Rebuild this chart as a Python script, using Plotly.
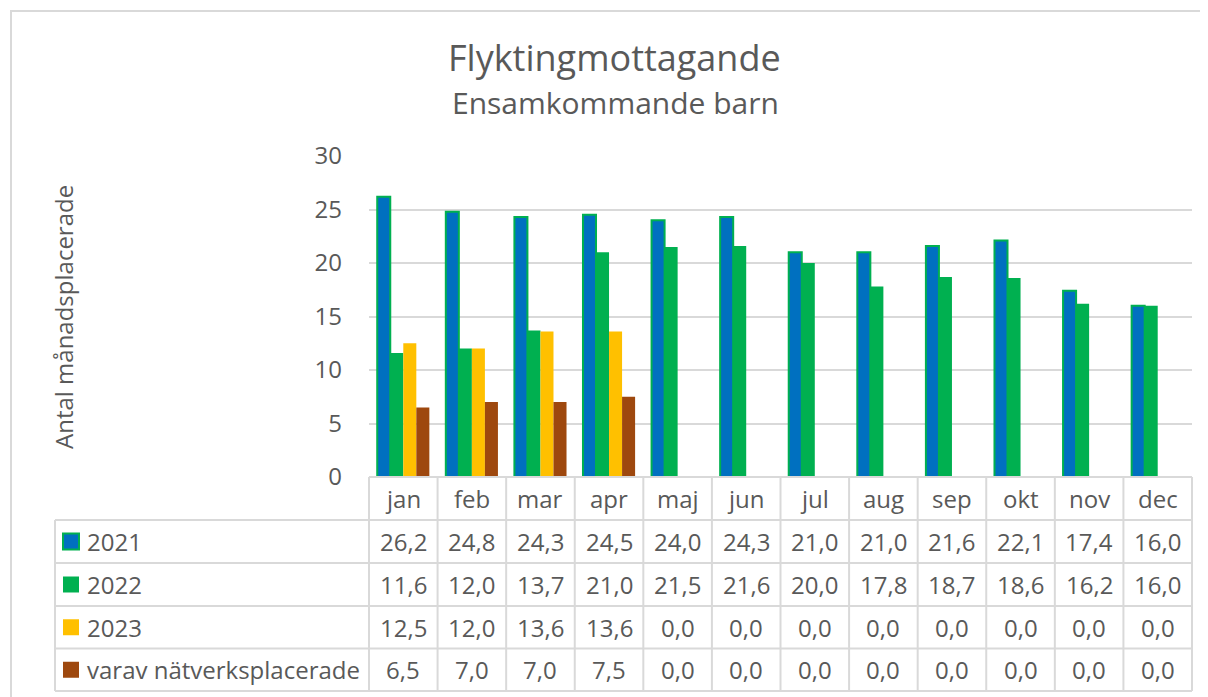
import plotly.graph_objects as go

months = ["jan", "feb", "mar", "apr", "maj", "jun", "jul", "aug", "sep", "okt", "nov", "dec"]
series_names = ["2021", "2022", "2023", "varav nätverksplacerade"]
v2021 = [26.2, 24.8, 24.3, 24.5, 24.0, 24.3, 21.0, 21.0, 21.6, 22.1, 17.4, 16.0]
v2022 = [11.6, 12.0, 13.7, 21.0, 21.5, 21.6, 20.0, 17.8, 18.7, 18.6, 16.2, 16.0]
v2023 = [12.5, 12.0, 13.6, 13.6, 0.0, 0.0, 0.0, 0.0, 0.0, 0.0, 0.0, 0.0]
vnat = [6.5, 7.0, 7.0, 7.5, 0.0, 0.0, 0.0, 0.0, 0.0, 0.0, 0.0, 0.0]
y_ticks = [0, 5, 10, 15, 20, 25, 30]

title = "Flyktingmottagande"
subtitle = "Ensamkommande barn"
y_title = "Antal månadsplacerade"

fills = ["#0070C0", "#00B050", "#FFC000", "#9E480E"]
borders = ["#00B050", "#00B050", "#FFC000", "#9E480E"]
border_w = [2, 0, 0, 0]
all_vals = [v2021, v2022, v2023, vnat]

# page offset (browser body margin)
OFF = 8
SW, SH = 1208, 697
W, H = SW - OFF, SH - OFF
# plot area in screen pixels
L, R, T, B = 369, 1192, 156, 477
FONT = "Open Sans"
TXT = "#595959"
GRID = "#D9D9D9"


def xp(px):
    return (px - L) / (R - L)


def yp(py):
    return (B - py) / (B - T)


fig = go.Figure()
for name, vals, fc, bc, bw in zip(series_names, all_vals, fills, borders, border_w):
    fig.add_trace(go.Bar(
        x=months, y=vals, name=name,
        marker=dict(color=fc, line=dict(color=bc, width=bw)),
    ))

shapes = []
annotations = []

# outer chart border
shapes.append(dict(type="rect", xref="paper", yref="paper",
                   x0=xp(11), x1=xp(1225), y0=yp(11), y1=yp(715),
                   line=dict(color=GRID, width=2), fillcolor="rgba(0,0,0,0)", layer="below"))

# data table geometry
row_tops = [477, 520, 563, 606, 648.5, 691]
tab_left = 55
n = len(months)
cw = (R - L) / n

shapes.append(dict(type="line", xref="paper", yref="paper", x0=xp(L), x1=xp(R),
                   y0=yp(row_tops[0]), y1=yp(row_tops[0]), line=dict(color=GRID, width=2)))
for yy in row_tops[1:]:
    shapes.append(dict(type="line", xref="paper", yref="paper", x0=xp(tab_left), x1=xp(R),
                       y0=yp(yy), y1=yp(yy), line=dict(color=GRID, width=2)))
shapes.append(dict(type="line", xref="paper", yref="paper", x0=xp(tab_left), x1=xp(tab_left),
                   y0=yp(row_tops[1]), y1=yp(row_tops[-1]), line=dict(color=GRID, width=2)))
for k in range(n + 1):
    xx = L + k * cw
    shapes.append(dict(type="line", xref="paper", yref="paper", x0=xp(xx), x1=xp(xx),
                       y0=yp(row_tops[0]), y1=yp(row_tops[-1]), line=dict(color=GRID, width=2)))

cell_font = dict(family=FONT, size=24, color=TXT)

for i, m in enumerate(months):
    annotations.append(dict(xref="paper", yref="paper", x=(i + 0.5) / n,
                            y=yp((row_tops[0] + row_tops[1]) / 2), text=m, showarrow=False,
                            font=cell_font, xanchor="center", yanchor="middle"))

for r, (name, vals, fc, bc, bw) in enumerate(zip(series_names, all_vals, fills, borders, border_w)):
    yc = (row_tops[r + 1] + row_tops[r + 2]) / 2
    shapes.append(dict(type="rect", xref="paper", yref="paper",
                       x0=xp(63), x1=xp(79), y0=yp(yc - 8), y1=yp(yc + 8),
                       fillcolor=fc, line=dict(color=bc, width=2 if bw else 0)))
    annotations.append(dict(xref="paper", yref="paper", x=xp(85), y=yp(yc), text=name,
                            showarrow=False, font=cell_font, xanchor="left", yanchor="middle"))
    for i, v in enumerate(vals):
        annotations.append(dict(xref="paper", yref="paper", x=(i + 0.5) / n, y=yp(yc),
                                text=f"{v:.1f}".replace(".", ","), showarrow=False,
                                font=cell_font, xanchor="center", yanchor="middle"))

annotations.append(dict(xref="paper", yref="paper", x=xp(614), y=yp(57), text=title,
                        showarrow=False, font=dict(family=FONT, size=36, color=TXT),
                        xanchor="center", yanchor="middle"))
annotations.append(dict(xref="paper", yref="paper", x=xp(615), y=yp(102), text=subtitle,
                        showarrow=False, font=dict(family=FONT, size=30, color=TXT),
                        xanchor="center", yanchor="middle"))
annotations.append(dict(xref="paper", yref="paper", x=xp(63), y=yp(317), text=y_title,
                        showarrow=False, textangle=-90, font=dict(family=FONT, size=24, color=TXT),
                        xanchor="center", yanchor="middle"))

fig.update_layout(
    width=W, height=H,
    margin=dict(l=L - OFF, r=SW - R, t=T - OFF, b=SH - B, pad=0),
    paper_bgcolor="white", plot_bgcolor="white",
    barmode="group", bargap=0.24, bargroupgap=0,
    showlegend=False,
    shapes=shapes, annotations=annotations,
    font=dict(family=FONT, color=TXT),
    xaxis=dict(showticklabels=False, showgrid=False, zeroline=False, showline=False,
               ticks="", range=[-0.5, n - 0.5]),
    yaxis=dict(range=[0, 30], tickvals=y_ticks, showgrid=True, gridcolor=GRID, gridwidth=2,
               zeroline=False, showline=False, ticks="", ticklabelstandoff=26,
               tickfont=dict(family=FONT, size=24, color=TXT)),
)

fig.write_html("out.html")
